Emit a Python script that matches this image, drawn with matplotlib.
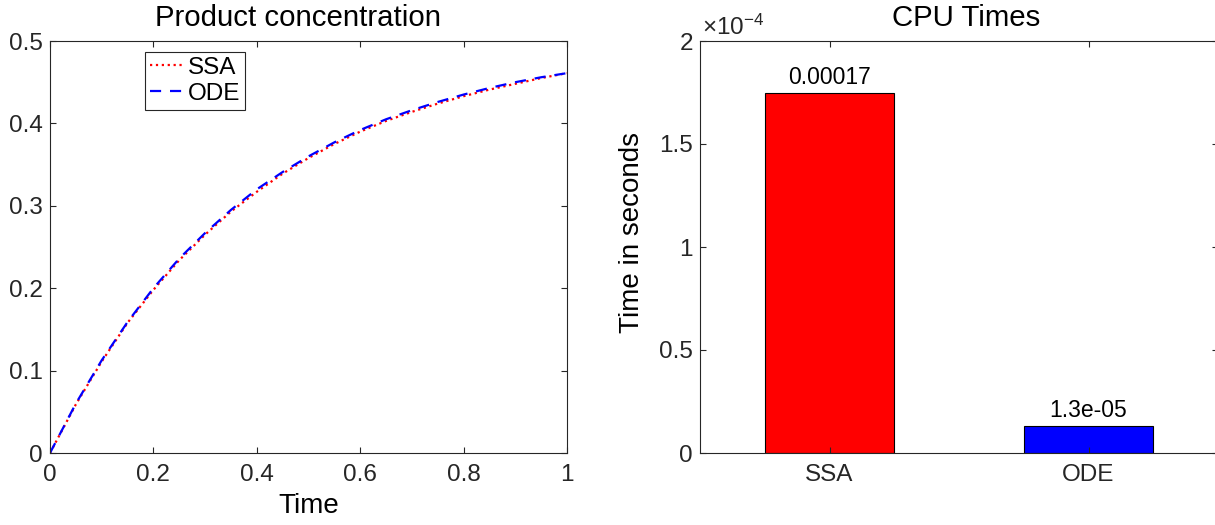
import numpy as np
import matplotlib
matplotlib.use("Agg")
import matplotlib.pyplot as plt
from matplotlib.ticker import FuncFormatter

plt.rcParams['font.family'] = ['Liberation Sans', 'DejaVu Sans']
plt.rcParams['mathtext.fontset'] = 'custom'
plt.rcParams['mathtext.rm'] = 'Liberation Sans'
plt.rcParams['mathtext.it'] = 'Liberation Sans'

# data
time = [0.0, 0.05, 0.1, 0.15, 0.2, 0.25, 0.3, 0.35, 0.4, 0.45, 0.5,
        0.55, 0.6, 0.65, 0.7, 0.75, 0.8, 0.85, 0.9, 0.95, 1.0]
ode = [0.0, 0.060, 0.1125, 0.159, 0.200, 0.236, 0.267, 0.295, 0.320, 0.341, 0.360,
       0.377, 0.392, 0.405, 0.416, 0.426, 0.435, 0.443, 0.450, 0.456, 0.461]
ssa = [0.0, 0.059, 0.111, 0.158, 0.198, 0.234, 0.265, 0.293, 0.317, 0.339, 0.358,
       0.375, 0.390, 0.403, 0.414, 0.424, 0.433, 0.441, 0.448, 0.455, 0.461]

methods = ['SSA', 'ODE']
cpu_times = [1.748e-4, 1.32e-5]
bar_colors = ['#ff0000', '#0000ff']

dark = '#262626'
tick_fs = 17.5
label_fs = 20
title_fs = 21.2

fig = plt.figure(figsize=(12.15, 5.25), dpi=100)
ax1 = fig.add_axes([50 / 1215, 72 / 525, 517 / 1215, 412 / 525])
ax2 = fig.add_axes([700 / 1215, 72 / 525, 518 / 1215, 412 / 525])

for ax in (ax1, ax2):
    for s in ax.spines.values():
        s.set_color(dark)
        s.set_linewidth(0.8)
    ax.tick_params(direction='in', length=4, width=0.8, colors=dark,
                   labelsize=tick_fs, top=True, right=True, labelcolor=dark)
    ax.tick_params(axis='x', pad=8)
    ax.tick_params(axis='y', pad=5)

# left: product concentration
ax1.plot(time, ssa, ':', color='#ff0000', lw=1.6, label='SSA')
ax1.plot(time, ode, '--', color='#0000ff', lw=1.6, label='ODE', dashes=(5, 4))
ax1.set_xlim(0, 1)
ax1.set_ylim(0, 0.5)
ax1.set_xticks([0, 0.2, 0.4, 0.6, 0.8, 1])
ax1.set_xticklabels(['0', '0.2', '0.4', '0.6', '0.8', '1'])
ax1.set_yticks([0, 0.1, 0.2, 0.3, 0.4, 0.5])
ax1.set_yticklabels(['0', '0.1', '0.2', '0.3', '0.4', '0.5'])
ax1.set_title('Product concentration', fontsize=title_fs, color='black', pad=11, x=0.479)
ax1.set_xlabel('Time', fontsize=label_fs, color='black', labelpad=5)
leg = ax1.legend(loc='upper left', bbox_to_anchor=(0.184, 0.973), borderaxespad=0,
                 fontsize=tick_fs, handlelength=1.45, handletextpad=0.12,
                 borderpad=0.2, labelspacing=0.15, fancybox=False, framealpha=1)
leg.get_frame().set_edgecolor(dark)
leg.get_frame().set_linewidth(0.8)

# right: CPU times
xpos = np.arange(1, len(methods) + 1)
ax2.bar(xpos, cpu_times, width=0.5, color=bar_colors, edgecolor='black', linewidth=0.8)
for x, v in zip(xpos, cpu_times):
    ax2.annotate('%.2g' % v, (x, v), xytext=(0, 2.5), textcoords='offset points',
                 ha='center', va='bottom', fontsize=16.5, color='black')
ax2.set_xlim(0.5, 2.5)
ax2.set_ylim(0, 2e-4)
ax2.set_xticks(xpos)
ax2.set_xticklabels(methods)
ax2.set_yticks([0, 0.5e-4, 1e-4, 1.5e-4, 2e-4])
ax2.yaxis.set_major_formatter(FuncFormatter(lambda v, p: '%g' % round(v / 1e-4, 3)))
ax2.text(0.004, 1.0146, r'$\times$10$^{\mathregular{-4}}$', transform=ax2.transAxes,
         fontsize=tick_fs, color=dark, ha='left', va='baseline')
ax2.set_title('CPU Times', fontsize=title_fs, color='black', pad=11, x=0.513)
ax2.set_ylabel('Time in seconds', fontsize=label_fs, color='black', labelpad=10)
ax2.yaxis.set_label_coords(-0.106, 0.535)

fig.savefig('out.png', dpi=100)
